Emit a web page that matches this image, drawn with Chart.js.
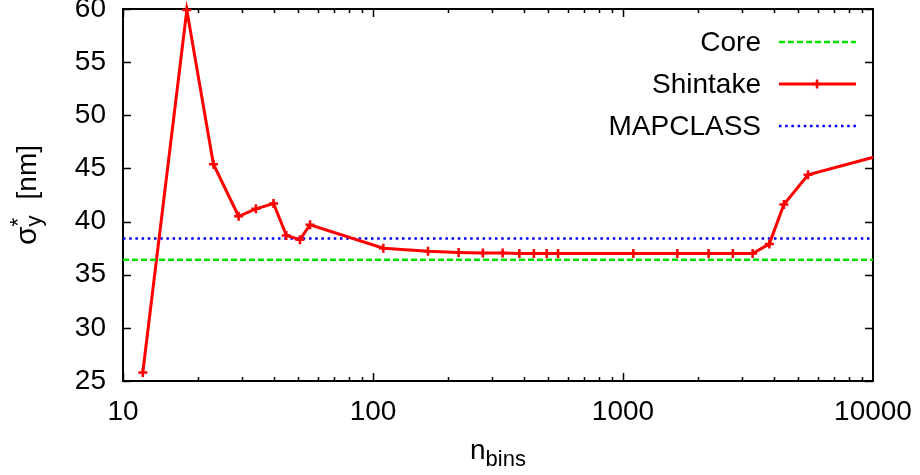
<!DOCTYPE html>
<html>
<head>
<meta charset="utf-8">
<script src="https://cdn.jsdelivr.net/npm/chart.js@4/dist/chart.umd.min.js"></script>
<style>
  html, body { margin: 0; padding: 0; background: #fff; }
  canvas { display: block; }
</style>
</head>
<body>
<canvas id="sigma" width="920" height="475"></canvas>
<script>
// beam size vs number of bins
var nBins = [12, 18, 23, 29, 34, 40, 45, 51, 56, 110, 166, 220, 275, 330, 385, 440, 495, 550,
             1100, 1650, 2200, 2750, 3300, 3850, 4400, 5500, 11000];
var shintake = [25.8, 59.9, 45.4, 40.5, 41.2, 41.7, 38.7, 38.3, 39.7, 37.5, 37.2, 37.1, 37.05, 37.05,
                37.0, 37.0, 37.0, 37.0, 37.0, 37.0, 37.0, 37.0, 37.0, 37.9, 41.6, 44.4, 46.3];
var xRange = [10, 10000];
var coreLevel = 36.4;
var mapclassLevel = 38.4;
var xTicks = [10, 100, 1000, 10000];
var yTicks = [25, 30, 35, 40, 45, 50, 55, 60];

var FONT = "'Liberation Sans', Arial, sans-serif";
var FS = 28;

function pts(xs, ys) {
  return xs.map(function(x, i) { return { x: x, y: ys[i] }; });
}

function noPad(s) {
  s.paddingLeft = s.paddingRight = s.paddingTop = s.paddingBottom = 0;
}

// gnuplot style frame with inward ticks on all four sides
var frameTicks = {
  id: 'frameTicks',
  beforeDatasetsDraw: function(chart) {
    var ctx = chart.ctx, a = chart.chartArea;
    var xs = chart.scales.x, ys = chart.scales.y;
    ctx.save();
    ctx.strokeStyle = '#000';
    ctx.lineWidth = 1.5;
    ctx.beginPath();
    yTicks.forEach(function(v) {
      var py = Math.round(ys.getPixelForValue(v)) + 0.5;
      ctx.moveTo(a.left, py); ctx.lineTo(a.left + 8, py);
      ctx.moveTo(a.right, py); ctx.lineTo(a.right - 8, py);
    });
    for (var d = 10; d < 10000; d *= 10) {
      for (var m = 1; m < 10; m++) {
        var px = Math.round(xs.getPixelForValue(d * m)) + 0.5;
        var len = m === 1 ? 8 : 4;
        ctx.moveTo(px, a.bottom); ctx.lineTo(px, a.bottom - len);
        ctx.moveTo(px, a.top); ctx.lineTo(px, a.top + len);
      }
    }
    ctx.stroke();
    ctx.lineWidth = 2;
    ctx.strokeRect(a.left, a.top, a.right - a.left, a.bottom - a.top);
    ctx.restore();
  }
};

// axis titles with sub/superscripts and the key at top right
var titlesKey = {
  id: 'titlesKey',
  afterDraw: function(chart) {
    var ctx = chart.ctx, a = chart.chartArea;
    var big = FS + 'px ' + FONT, small = Math.round(FS * 0.8) + 'px ' + FONT;
    var sigmaFont = (FS + 2) + 'px ' + FONT;
    ctx.save();
    ctx.fillStyle = '#000';
    ctx.textBaseline = 'alphabetic';
    ctx.textAlign = 'left';

    // x title: n_bins
    ctx.font = big;
    var wN = ctx.measureText('n').width;
    ctx.font = small;
    var wB = ctx.measureText('bins').width;
    var x0 = (a.left + a.right) / 2 - (wN + wB) / 2;
    ctx.font = big;
    ctx.fillText('n', x0, 459);
    ctx.font = small;
    ctx.fillText('bins', x0 + wN, 466);

    // y title: sigma_y^* [nm]
    ctx.translate(36, (a.top + a.bottom) / 2);
    ctx.rotate(-Math.PI / 2);
    ctx.font = sigmaFont;
    var wS = ctx.measureText('\u03c3').width;
    ctx.font = small;
    var wSub = Math.max(ctx.measureText('y').width, ctx.measureText('*').width);
    ctx.font = big;
    var wNm = ctx.measureText('[nm]').width;
    var gap = 16;
    var sx = -(wS + wSub + gap + wNm) / 2;
    ctx.font = sigmaFont;
    ctx.fillText('\u03c3', sx, 0);
    ctx.font = small;
    ctx.fillText('y', sx + wS, 5);
    ctx.fillText('*', sx + wS, -11);
    ctx.font = big;
    ctx.fillText('[nm]', sx + wS + wSub + gap, 0);
    ctx.restore();

    // key
    ctx.save();
    ctx.font = big;
    ctx.textAlign = 'right';
    ctx.textBaseline = 'middle';
    chart.data.datasets.forEach(function(ds, i) {
      var y = 42 + i * 42;
      ctx.fillStyle = '#000';
      ctx.fillText(ds.label, 761, y + 1);
      ctx.strokeStyle = ds.borderColor;
      ctx.lineWidth = ds.borderWidth;
      ctx.setLineDash(ds.borderDash || []);
      ctx.beginPath();
      ctx.moveTo(779, y); ctx.lineTo(856, y);
      ctx.stroke();
      if (ds.pointRadius > 0) {
        var r = ds.pointRadius;
        ctx.setLineDash([]);
        ctx.lineWidth = ds.pointBorderWidth;
        ctx.beginPath();
        ctx.moveTo(817 - r, y); ctx.lineTo(817 + r, y);
        ctx.moveTo(817, y - r); ctx.lineTo(817, y + r);
        ctx.stroke();
      }
    });
    ctx.restore();
  }
};

new Chart(document.getElementById('sigma'), {
  type: 'line',
  data: {
    datasets: [
      {
        label: 'Core',
        data: pts(xRange, [coreLevel, coreLevel]),
        borderColor: '#00e000',
        borderWidth: 2.5,
        borderDash: [6, 3],
        pointRadius: 0
      },
      {
        label: 'Shintake',
        data: pts(nBins, shintake),
        borderColor: '#ff0000',
        backgroundColor: '#ff0000',
        borderWidth: 3,
        pointStyle: 'cross',
        pointRadius: 4.5,
        pointBorderWidth: 2.5,
        clip: { left: 8, top: 8, right: 0, bottom: 8 }
      },
      {
        label: 'MAPCLASS',
        data: pts(xRange, [mapclassLevel, mapclassLevel]),
        borderColor: '#0000ff',
        borderWidth: 2.5,
        borderDash: [2.5, 3.7],
        pointRadius: 0
      }
    ]
  },
  options: {
    responsive: false,
    animation: false,
    devicePixelRatio: 1,
    layout: { padding: { top: 9, right: 47, left: 0, bottom: 0 } },
    plugins: { legend: { display: false }, tooltip: { enabled: false } },
    elements: { line: { tension: 0 } },
    scales: {
      x: {
        type: 'logarithmic',
        min: xRange[0],
        max: xRange[1],
        grid: { display: false, drawTicks: false },
        border: { display: false },
        afterBuildTicks: function(s) {
          s.ticks = xTicks.map(function(v) { return { value: v }; });
        },
        afterFit: function(s) { s.height = 94; noPad(s); },
        ticks: {
          color: '#000',
          font: { family: FONT, size: FS },
          padding: 14,
          maxRotation: 0,
          autoSkip: false,
          callback: function(v) { return String(v); }
        }
      },
      y: {
        min: 25,
        max: 60,
        grid: { display: false, drawTicks: false },
        border: { display: false },
        afterBuildTicks: function(s) {
          s.ticks = yTicks.map(function(v) { return { value: v }; });
        },
        afterFit: function(s) { s.width = 123; noPad(s); },
        ticks: {
          color: '#000',
          font: { family: FONT, size: FS },
          padding: 17
        }
      }
    }
  },
  plugins: [frameTicks, titlesKey]
});
</script>
</body>
</html>
